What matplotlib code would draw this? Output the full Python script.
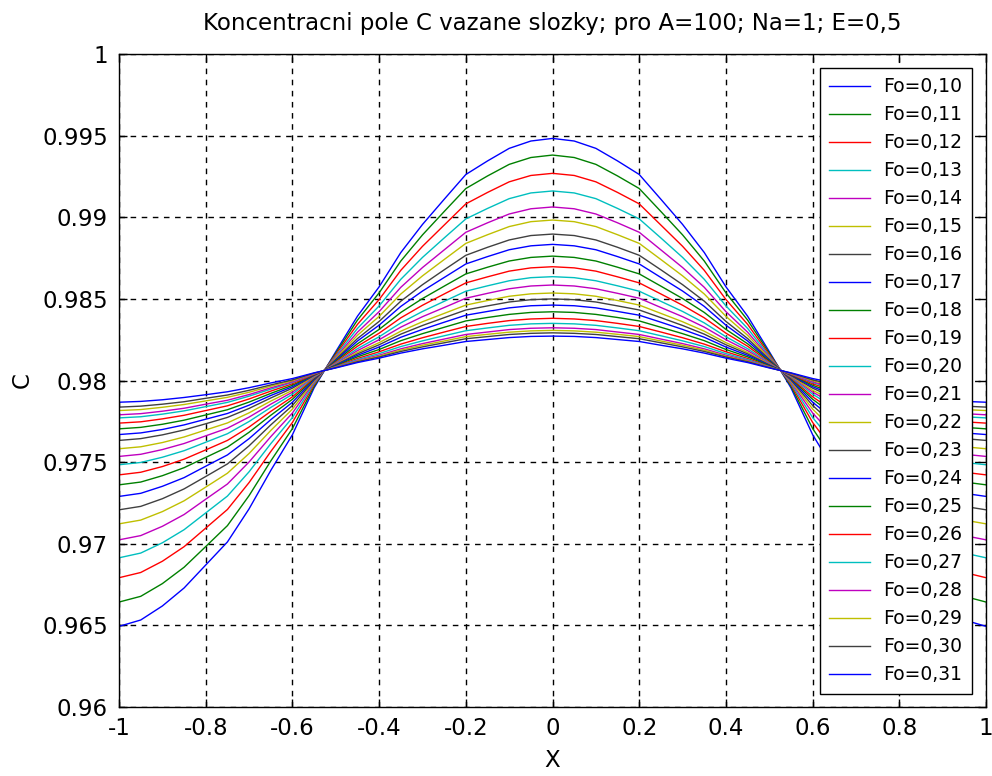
import numpy as np
import matplotlib as mpl
mpl.use('Agg')
import matplotlib.pyplot as plt

mpl.rcParams['font.family'] = 'DejaVu Sans'
mpl.rcParams['axes.unicode_minus'] = False

# half profiles, x = 0 .. 1 (curves are symmetric in x)
x_half = [0.0, 0.05, 0.1, 0.15, 0.2, 0.25, 0.3, 0.35, 0.4, 0.45, 0.5,
          0.55, 0.6, 0.65, 0.7, 0.75, 0.8, 0.85, 0.9, 0.95, 1.0]

fo_labels = ['Fo=0,10', 'Fo=0,11', 'Fo=0,12', 'Fo=0,13', 'Fo=0,14', 'Fo=0,15',
             'Fo=0,16', 'Fo=0,17', 'Fo=0,18', 'Fo=0,19', 'Fo=0,20', 'Fo=0,21',
             'Fo=0,22', 'Fo=0,23', 'Fo=0,24', 'Fo=0,25', 'Fo=0,26', 'Fo=0,27',
             'Fo=0,28', 'Fo=0,29', 'Fo=0,30', 'Fo=0,31']

c_half = [
    [0.99483, 0.99467, 0.99422, 0.99345, 0.99262, 0.99110, 0.98956, 0.98784, 0.98574, 0.98394, 0.98177,
     0.97955, 0.97668, 0.97449, 0.97214, 0.97011, 0.96870, 0.96729, 0.96619, 0.96533, 0.96494],
    [0.99381, 0.99366, 0.99324, 0.99253, 0.99176, 0.99035, 0.98892, 0.98732, 0.98537, 0.98370, 0.98168,
     0.97965, 0.97706, 0.97507, 0.97295, 0.97111, 0.96983, 0.96856, 0.96756, 0.96678, 0.96643],
    [0.99269, 0.99256, 0.99217, 0.99152, 0.99082, 0.98952, 0.98822, 0.98675, 0.98496, 0.98344, 0.98159,
     0.97975, 0.97743, 0.97565, 0.97375, 0.97210, 0.97096, 0.96982, 0.96893, 0.96824, 0.96792],
    [0.99161, 0.99149, 0.99114, 0.99054, 0.98990, 0.98873, 0.98754, 0.98620, 0.98457, 0.98319, 0.98150,
     0.97983, 0.97773, 0.97613, 0.97441, 0.97292, 0.97189, 0.97086, 0.97006, 0.96943, 0.96914],
    [0.99063, 0.99052, 0.99020, 0.98966, 0.98908, 0.98800, 0.98692, 0.98571, 0.98422, 0.98296, 0.98142,
     0.97991, 0.97801, 0.97656, 0.97501, 0.97366, 0.97273, 0.97179, 0.97107, 0.97050, 0.97024],
    [0.98983, 0.98973, 0.98943, 0.98893, 0.98840, 0.98741, 0.98641, 0.98530, 0.98393, 0.98277, 0.98136,
     0.97997, 0.97825, 0.97694, 0.97553, 0.97432, 0.97347, 0.97263, 0.97197, 0.97145, 0.97122],
    [0.98897, 0.98888, 0.98861, 0.98816, 0.98767, 0.98678, 0.98587, 0.98486, 0.98362, 0.98257, 0.98129,
     0.98003, 0.97847, 0.97728, 0.97600, 0.97489, 0.97412, 0.97336, 0.97276, 0.97229, 0.97208],
    [0.98834, 0.98825, 0.98801, 0.98759, 0.98714, 0.98631, 0.98548, 0.98454, 0.98339, 0.98242, 0.98123,
     0.98008, 0.97867, 0.97760, 0.97644, 0.97544, 0.97475, 0.97405, 0.97352, 0.97309, 0.97290],
    [0.98762, 0.98754, 0.98732, 0.98694, 0.98653, 0.98578, 0.98502, 0.98417, 0.98313, 0.98225, 0.98118,
     0.98013, 0.97885, 0.97787, 0.97683, 0.97592, 0.97529, 0.97466, 0.97417, 0.97378, 0.97361],
    [0.98697, 0.98690, 0.98670, 0.98635, 0.98598, 0.98530, 0.98461, 0.98384, 0.98290, 0.98210, 0.98112,
     0.98017, 0.97900, 0.97811, 0.97715, 0.97633, 0.97575, 0.97518, 0.97473, 0.97438, 0.97422],
    [0.98636, 0.98630, 0.98611, 0.98580, 0.98547, 0.98485, 0.98423, 0.98353, 0.98268, 0.98195, 0.98107,
     0.98021, 0.97916, 0.97835, 0.97749, 0.97674, 0.97622, 0.97570, 0.97530, 0.97498, 0.97484],
    [0.98585, 0.98579, 0.98562, 0.98534, 0.98504, 0.98447, 0.98391, 0.98327, 0.98250, 0.98183, 0.98103,
     0.98025, 0.97929, 0.97855, 0.97776, 0.97708, 0.97661, 0.97614, 0.97577, 0.97548, 0.97535],
    [0.98536, 0.98531, 0.98516, 0.98490, 0.98462, 0.98411, 0.98360, 0.98302, 0.98232, 0.98172, 0.98099,
     0.98028, 0.97940, 0.97874, 0.97802, 0.97740, 0.97697, 0.97654, 0.97620, 0.97594, 0.97582],
    [0.98500, 0.98495, 0.98481, 0.98457, 0.98432, 0.98385, 0.98337, 0.98284, 0.98219, 0.98163, 0.98096,
     0.98031, 0.97953, 0.97893, 0.97829, 0.97774, 0.97735, 0.97697, 0.97667, 0.97644, 0.97633],
    [0.98462, 0.98458, 0.98445, 0.98423, 0.98400, 0.98357, 0.98313, 0.98265, 0.98205, 0.98154, 0.98093,
     0.98034, 0.97962, 0.97908, 0.97849, 0.97798, 0.97763, 0.97728, 0.97700, 0.97679, 0.97669],
    [0.98421, 0.98417, 0.98405, 0.98386, 0.98365, 0.98326, 0.98287, 0.98244, 0.98190, 0.98145, 0.98090,
     0.98036, 0.97971, 0.97921, 0.97868, 0.97821, 0.97789, 0.97757, 0.97732, 0.97713, 0.97704],
    [0.98381, 0.98377, 0.98367, 0.98350, 0.98331, 0.98297, 0.98262, 0.98223, 0.98176, 0.98135, 0.98086,
     0.98038, 0.97980, 0.97935, 0.97887, 0.97845, 0.97816, 0.97787, 0.97765, 0.97747, 0.97739],
    [0.98350, 0.98347, 0.98338, 0.98322, 0.98305, 0.98274, 0.98243, 0.98208, 0.98165, 0.98128, 0.98084,
     0.98041, 0.97988, 0.97947, 0.97904, 0.97866, 0.97840, 0.97814, 0.97794, 0.97778, 0.97771],
    [0.98323, 0.98320, 0.98312, 0.98297, 0.98282, 0.98254, 0.98226, 0.98194, 0.98155, 0.98122, 0.98082,
     0.98042, 0.97992, 0.97955, 0.97914, 0.97879, 0.97855, 0.97830, 0.97812, 0.97797, 0.97790],
    [0.98307, 0.98304, 0.98296, 0.98283, 0.98269, 0.98242, 0.98216, 0.98186, 0.98149, 0.98118, 0.98080,
     0.98044, 0.97999, 0.97965, 0.97928, 0.97897, 0.97875, 0.97853, 0.97836, 0.97822, 0.97816],
    [0.98292, 0.98289, 0.98282, 0.98269, 0.98256, 0.98231, 0.98206, 0.98178, 0.98144, 0.98115, 0.98079,
     0.98045, 0.98004, 0.97973, 0.97940, 0.97911, 0.97891, 0.97870, 0.97855, 0.97843, 0.97837],
    [0.98272, 0.98270, 0.98263, 0.98251, 0.98239, 0.98216, 0.98194, 0.98168, 0.98137, 0.98110, 0.98077,
     0.98047, 0.98012, 0.97985, 0.97956, 0.97931, 0.97913, 0.97896, 0.97882, 0.97872, 0.97867],
]

x_ticks = [-1, -0.8, -0.6, -0.4, -0.2, 0, 0.2, 0.4, 0.6, 0.8, 1]
x_ticklabels = ['-1', '-0.8', '-0.6', '-0.4', '-0.2', '0', '0.2', '0.4', '0.6', '0.8', '1']
y_ticks = [0.96, 0.965, 0.97, 0.975, 0.98, 0.985, 0.99, 0.995, 1.0]
y_ticklabels = ['0.96', '0.965', '0.97', '0.975', '0.98', '0.985', '0.99', '0.995', '1']

# old matlab colour order
colors = [(0, 0, 1), (0, 0.5, 0), (1, 0, 0), (0, 0.75, 0.75),
          (0.75, 0, 0.75), (0.75, 0.75, 0), (0.25, 0.25, 0.25)]

fs = 16.5
fig = plt.figure(figsize=(9.92, 7.76), dpi=100)
ax = fig.add_axes([0.12, 0.0889, 0.874, 0.8415])

xh = np.array(x_half)
x = np.concatenate([-xh[:0:-1], xh])
for i, (lab, ch) in enumerate(zip(fo_labels, c_half)):
    ch = np.array(ch)
    c = np.concatenate([ch[:0:-1], ch])
    ax.plot(x, c, color=colors[i % 7], lw=1.0, label=lab)

ax.set_xlim(-1, 1)
ax.set_ylim(0.96, 1.0)
ax.set_xticks(x_ticks)
ax.set_xticklabels(x_ticklabels)
ax.set_yticks(y_ticks)
ax.set_yticklabels(y_ticklabels)
ax.tick_params(direction='in', length=6, width=1, top=True, right=True,
               labelsize=fs, colors='k')
ax.tick_params(axis='x', pad=7)
ax.tick_params(axis='y', pad=8)
ax.grid(True, color='k', ls=(0, (4, 4)), lw=1.0)
for s in ax.spines.values():
    s.set_linewidth(1.0)

ax.set_title('Koncentracni pole C vazane slozky; pro A=100; Na=1; E=0,5',
             fontsize=fs, pad=17)
ax.set_xlabel('X', fontsize=fs, labelpad=7)
ax.set_ylabel('C', fontsize=fs, labelpad=6)

leg = ax.legend(loc='upper right', fontsize=13.5, frameon=True, fancybox=False,
                framealpha=1, edgecolor='k', labelspacing=0.48, handlelength=2.2,
                handletextpad=0.7, borderpad=0.5, borderaxespad=0.75)
leg.get_frame().set_linewidth(1.0)

plt.savefig('out.png', dpi=100)
